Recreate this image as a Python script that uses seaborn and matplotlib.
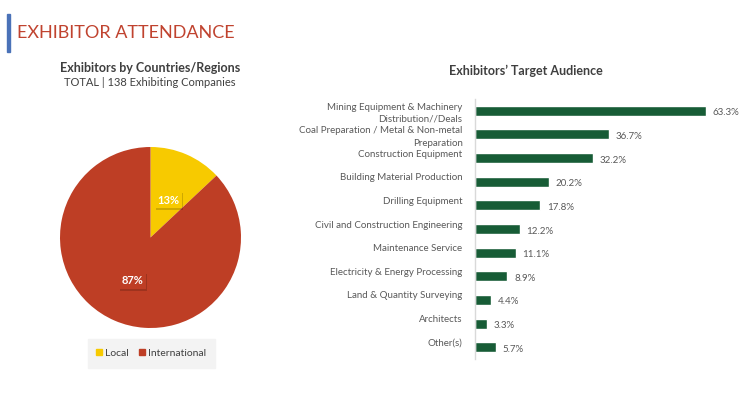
import matplotlib
matplotlib.use("Agg")
import matplotlib.pyplot as plt
import matplotlib.transforms as mtrans
import seaborn as sns
import pandas as pd

sns.set_theme(style="white")
plt.rcParams['font.family'] = ['Lato', 'DejaVu Sans']

# ---- data ----
pie_labels = ["Local", "International"]
pie_values = [13, 87]
pie_colors = ["#F7CA00", "#BE3E25"]

categories = [
    "Mining Equipment & Machinery\nDistribution//Deals",
    "Coal Preparation / Metal & Non-metal\nPreparation",
    "Construction Equipment",
    "Building Material Production",
    "Drilling Equipment",
    "Civil and Construction Engineering",
    "Maintenance Service",
    "Electricity & Energy Processing",
    "Land & Quantity Surveying",
    "Architects",
    "Other(s)",
]
percentages = [63.3, 36.7, 32.2, 20.2, 17.8, 12.2, 11.1, 8.9, 4.4, 3.3, 5.7]
bar_color = "#175C36"

W, H = 740, 416
fig = plt.figure(figsize=(W / 100, H / 100), dpi=100)
fig.patch.set_facecolor("white")

def fx(x):
    return x / W

def fy(y):
    return 1 - y / H

# ---- header ----
fig.add_artist(plt.Rectangle((fx(7), fy(52)), fx(3), 38 / H, color="#4A72B8",
                             transform=fig.transFigure))
fig.text(fx(17), fy(33), "EXHIBITOR ATTENDANCE", color="#C0432F", fontsize=13,
         va="center", ha="left")

fig.text(fx(150), fy(68), "Exhibitors by Countries/Regions", color="#3F3F3F",
         fontsize=9, fontweight="bold", ha="center", va="center")
fig.text(fx(150), fy(82), "TOTAL | 138 Exhibiting Companies", color="#404040",
         fontsize=8, ha="center", va="center")
fig.text(fx(526), fy(71), "Exhibitors\u2019 Target Audience", color="#3F3F3F",
         fontsize=9, fontweight="bold", ha="center", va="center")

# ---- pie ----
ax_pie = fig.add_axes([fx(60), fy(328), 181 / W, 181 / H])
wedges, _ = ax_pie.pie(pie_values, colors=pie_colors, startangle=90,
                       counterclock=False, wedgeprops=dict(linewidth=0))
ax_pie.set_xlim(-1, 1)
ax_pie.set_ylim(-1, 1)
ax_pie.set_aspect("equal")
pos = [(168, 200), (132, 281)]
for (x, y), v, c in zip(pos, pie_values, pie_colors):
    fig.text(fx(x) + 1.5 / W, fy(y) - 1.5 / H, f"{v}%", fontsize=8, color=c,
             fontweight="bold", ha="center", va="center", alpha=0.0,
             bbox=dict(boxstyle="square,pad=0.25", fc="#0000002A", ec="none"))
    fig.text(fx(x), fy(y), f"{v}%", fontsize=8, color="white", fontweight="bold",
             ha="center", va="center",
             bbox=dict(boxstyle="square,pad=0.25", fc=c, ec="none"))

# legend box
fig.add_artist(plt.Rectangle((fx(88), fy(368)), 127 / W, 29 / H, color="#F3F3F3",
                             transform=fig.transFigure, zorder=0))
handles = [plt.Rectangle((0, 0), 1, 1, color=c) for c in pie_colors]
fig.legend(handles, pie_labels, loc="center", bbox_to_anchor=(fx(151), fy(353)),
           ncol=2, frameon=False, fontsize=7.5, handlelength=0.6, handleheight=0.6,
           handletextpad=0.3, columnspacing=0.9, labelcolor="#404040")

# ---- bars ----
ax = fig.add_axes([fx(475), fy(359), (W - 475) / W, (359 - 99) / H])
df = pd.DataFrame({"cat": categories, "pct": percentages})
sns.barplot(data=df, y="cat", x="pct", orient="h", color=bar_color, width=0.42,
            ax=ax, saturation=1)
ax.set_xlim(0, (W - 475) / 3.65)
ax.set_ylim(len(categories) - 0.5, -0.5)
ax.set_xlabel("")
ax.set_ylabel("")
ax.set_xticks([])
for s in ["top", "right", "bottom"]:
    ax.spines[s].set_visible(False)
ax.spines["left"].set_color("#D9D9D9")
ax.spines["left"].set_linewidth(1)
ax.tick_params(axis="y", length=0, pad=9, labelsize=7, labelcolor="#595959")
for lbl in ax.get_yticklabels():
    txt = lbl.get_text()
    if "\n" not in txt:
        lbl.set_transform(lbl.get_transform() +
                          mtrans.ScaledTranslation(0, 5 / 100, fig.dpi_scale_trans))
    lbl.set_linespacing(1.45)
for i, v in enumerate(percentages):
    ax.annotate(f"{v}%", (v, i), xytext=(5, -1.5), textcoords="offset points",
                va="center", ha="left", fontsize=7, color="#595959")

fig.savefig("out.png", dpi=100, facecolor="white")
